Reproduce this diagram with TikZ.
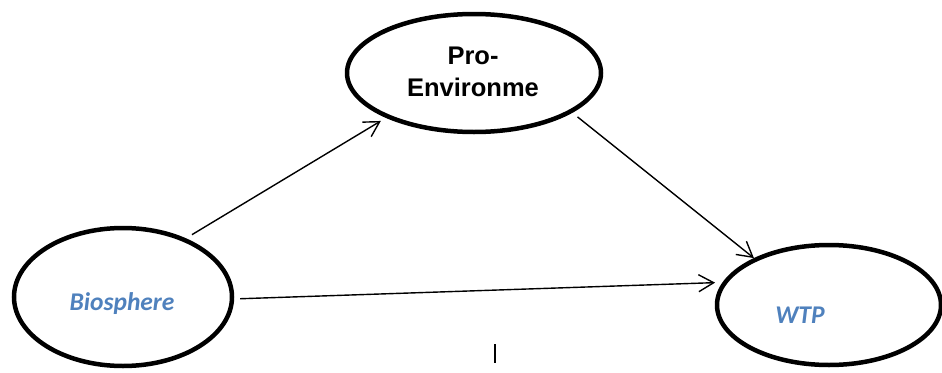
\documentclass[tikz,border=0pt]{standalone}
\usepackage{fontspec}
\setmainfont{Liberation Sans}
\newfontfamily\calfont{Carlito}
\usetikzlibrary{shapes.geometric,arrows.meta}
\definecolor{labelblue}{HTML}{4F81BD}
\tikzset{
  construct/.style={draw=black, line width=4.5pt, ellipse, inner sep=0pt},
  path link/.style={draw=black, line width=1.4pt,
    -{Straight Barb[length=15pt,width=17pt,line width=1.4pt]}},
  boldlabel/.style={font=\fontsize{25.5}{32}\selectfont\bfseries, align=center, inner sep=0pt},
  bluelabel/.style={font=\fontsize{25.5}{30}\selectfont\calfont\bfseries\itshape,
    text=labelblue, anchor=base, inner sep=0pt}
}
\begin{document}
\begin{tikzpicture}[x=1pt, y=-1pt]
  \useasboundingbox (0,0) rectangle (942,372);
  % the three latent constructs
  \node[construct, minimum width=254pt, minimum height=118pt] (pro) at (474,73) {};
  \node[construct, minimum width=218pt, minimum height=138pt] (bio) at (123,297) {};
  \node[construct, minimum width=224pt, minimum height=120pt] (wtp) at (829,305) {};
  % their labels
  \node[boldlabel] (protext) at (473,72) {Pro-\\Environme};
  \node[bluelabel] (biotext) at (122,310) {Biosphere};
  \node[bluelabel] (wtptext) at (800,323) {WTP};
  % structural paths
  \draw[path link, shorten <=7pt, shorten >=6pt] (bio.43) -- (pro.207);
  \draw[path link, shorten <=6.6pt] (pro.-22) -- (wtp.148);
  \draw[path link, shorten <=6pt, shorten >=7.5pt] (bio.-1) -- (wtp.168);
  % small stray stroke below the paths
  \draw[line width=2pt] (495,344) -- (495,363);
\end{tikzpicture}
\end{document}
